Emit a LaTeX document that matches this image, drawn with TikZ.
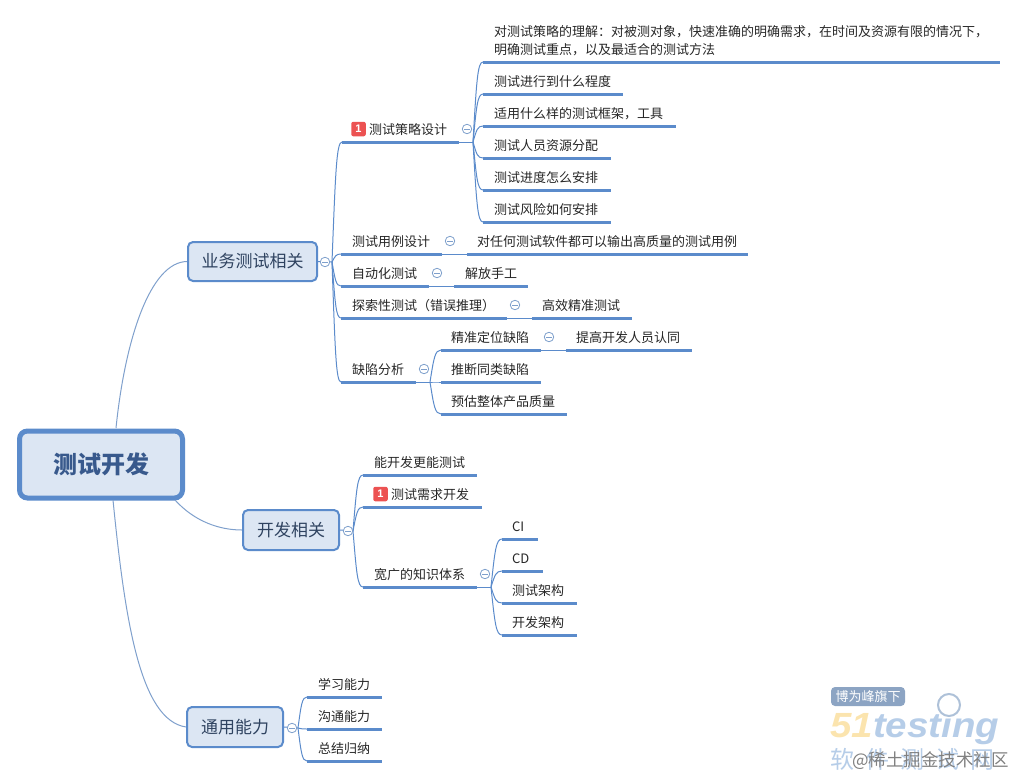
\documentclass[tikz,border=0pt]{standalone}
\usepackage{graphicx}
\usepackage{fontspec}
\setmainfont{Noto Sans CJK SC}
\newfontfamily\latinbold{Liberation Sans}
\usetikzlibrary{calc}
\definecolor{mblue}{HTML}{5B8BCB}
\definecolor{mfill}{HTML}{DCE6F3}
\definecolor{thinb}{HTML}{7FA0CC}
\definecolor{tdark}{HTML}{2F4360}
\definecolor{rootx}{HTML}{38598C}
\definecolor{wmblue}{HTML}{B6CDE8}
\definecolor{wmyel}{HTML}{FBE4AE}
\definecolor{badgered}{HTML}{EC5252}
\tikzset{
  leafnode/.style={anchor=south west,inner xsep=11pt,inner ysep=8pt,outer sep=0pt,align=left,
    text height=11pt,text depth=0pt,text=black!85,font=\fontsize{13}{18}\selectfont},
  underbar/.style={draw=mblue,line width=3pt},
  link/.style={mblue,line width=1pt},
  rootlink/.style={thinb,line width=1pt},
  topicbox/.style={draw=mblue,fill=mfill,line width=2pt,rounded corners=5pt,inner sep=0pt,text=tdark,
    font=\fontsize{17}{20}\selectfont},
  rootbox/.style={draw=mblue,fill=mfill,line width=5pt,rounded corners=8pt,inner sep=0pt,text=rootx,
    font=\fontsize{24}{28}\selectfont\bfseries},
  collapse/.style={circle,draw=thinb,fill=white,line width=.8pt,minimum size=9.5pt,inner sep=0pt,
    path picture={\draw[thinb,line width=.8pt] ($(path picture bounding box.center)+(-2.6pt,0)$) -- ($(path picture bounding box.center)+(2.6pt,0)$);}},
  badge/.style={fill=badgered,rounded corners=2pt,minimum width=14.5pt,minimum height=14.5pt,inner sep=0pt,
    text=white,font=\latinbold\fontsize{11}{11}\selectfont\bfseries},
}
\newcommand\leafnode[5]{%
  \pgfmathsetmacro\lfw{#3-#2-22}%
  \node[leafnode,text width=\lfw pt] (#1) at (#2,#4) {#5};
  \draw[underbar] (#1.south west) -- (#1.south east);
}
\newcommand\branch[2]{%
  \draw[link] let \p1=(#1),\p2=(#2.south west) in (\p1)
    .. controls ({\x1+0.35*(\x2-\x1)},{\y1+0.75*(\y2-\y1)}) and ({\x1+0.45*(\x2-\x1)},{\y2}) .. (\p2);
}
\newcommand\bk{\hspace*{-1pt}}
\begin{document}
\begin{tikzpicture}[x=1pt,y=-1pt]
\useasboundingbox (0,0) rectangle (1018,777);

% main boxes
\node[rootbox,minimum width=163pt,minimum height=67pt] (root) at (101,464.5) {测试开发};
\node[topicbox,minimum width=129pt,minimum height=39pt] (biz) at (252.5,261.5) {业务测试相关};
\node[topicbox,minimum width=96pt,minimum height=40pt] (dev) at (291,530) {开发相关};
\node[topicbox,minimum width=96pt,minimum height=40pt] (gen) at (235,727) {通用能力};

% root connectors
\coordinate (r1) at (116,428);
\coordinate (r2) at (175,500);
\coordinate (r3) at (113,500);
\draw[rootlink] (r1) .. controls (125,340) and (150,262) .. (biz.west);
\draw[rootlink] (r2) .. controls (195,522) and (220,530) .. (dev.west);
\draw[rootlink] (r3) .. controls (125,620) and (140,720) .. (gen.west);

% business branch
\leafnode{strat}{342}{459}{142}{\hspace*{16pt}测试策略设计}
\leafnode{s1}{483}{1000}{62}{\parbox[b]{495pt}{对测试策略的理解：对被测对象，快速准确的明确需求，在时间及资源有限的情况下，\\明确测试重点，以及最适合的测试方法}}
\leafnode{s2}{483}{623}{94}{测试进行到什么程度}
\leafnode{s3}{483}{676}{126}{适用什么样的测试框架，工具}
\leafnode{s4}{483}{611}{158}{测试人员资源分配}
\leafnode{s5}{483}{611}{190}{测试进度怎么安排}
\leafnode{s6}{483}{611}{222}{测试风险如何安排}
\leafnode{case}{341}{442}{254}{测试用例设计}
\leafnode{case1}{467}{748}{254}{\bk 对任何测试软件都可以输出高质量的测试用例}
\leafnode{auto}{341}{429}{286}{自动化测试}
\leafnode{auto1}{454}{528}{286}{解放手工}
\leafnode{expl}{341}{507}{318}{探索性测试（错误推理）}
\leafnode{expl1}{532}{632}{318}{\bk 高效精准测试}
\leafnode{defect}{341}{416}{382}{缺陷分析}
\leafnode{d1}{441}{541}{350}{\bk 精准定位缺陷}
\leafnode{d1a}{566}{692}{350}{\bk 提高开发人员认同}
\leafnode{d2}{441}{541}{382}{\bk 推断同类缺陷}
\leafnode{d3}{441}{567}{414}{\bk 预估整体产品质量}

\coordinate (jb) at (332,262);
\draw[link] (biz.east) -- (jb);
\branch{jb}{strat}\branch{jb}{case}\branch{jb}{auto}\branch{jb}{expl}\branch{jb}{defect}
\coordinate (js) at (473,142);
\draw[link] (strat.south east) -- (js);
\branch{js}{s1}\branch{js}{s2}\branch{js}{s3}\branch{js}{s4}\branch{js}{s5}\branch{js}{s6}
\draw[link] (case.south east) -- (case1.south west);
\draw[link] (auto.south east) -- (auto1.south west);
\draw[link] (expl.south east) -- (expl1.south west);
\draw[link] (d1.south east) -- (d1a.south west);
\coordinate (jd) at (430,382);
\draw[link] (defect.south east) -- (jd);
\branch{jd}{d1}\branch{jd}{d2}\branch{jd}{d3}

% development branch
\leafnode{v1}{363}{477}{475}{能开发更能测试}
\leafnode{v2}{363}{482}{507}{\hspace*{17pt}测试需求开发}
\leafnode{v3}{363}{477}{587}{宽广的知识体系}
\leafnode{k1}{502}{538}{539}{\bk CI}
\leafnode{k2}{502}{543}{571}{\bk CD}
\leafnode{k3}{502}{577}{603}{\bk 测试架构}
\leafnode{k4}{502}{577}{635}{\bk 开发架构}
\coordinate (jv) at (353,531);
\draw[link] (dev.east) -- (jv);
\branch{jv}{v1}\branch{jv}{v2}\branch{jv}{v3}
\coordinate (jk) at (491,587);
\draw[link] (v3.south east) -- (jk);
\branch{jk}{k1}\branch{jk}{k2}\branch{jk}{k3}\branch{jk}{k4}

% general branch
\leafnode{g1}{307}{382}{697}{学习能力}
\leafnode{g2}{307}{382}{729}{沟通能力}
\leafnode{g3}{307}{382}{761}{总结归纳}
\coordinate (jg) at (298,728);
\draw[link] (gen.east) -- (jg);
\branch{jg}{g1}\branch{jg}{g2}\branch{jg}{g3}

% badges
\node[badge] (b1) at (358.5,129) {1};
\node[badge] (b2) at (380.5,494) {1};

% collapse marks
\node[collapse] (c1) at (325,262) {};
\node[collapse] (c2) at (467,129) {};
\node[collapse] (c3) at (450,241) {};
\node[collapse] (c4) at (437,273) {};
\node[collapse] (c5) at (515,305) {};
\node[collapse] (c6) at (424,369) {};
\node[collapse] (c7) at (549,337) {};
\node[collapse] (c8) at (348,531) {};
\node[collapse] (c9) at (485,574) {};
\node[collapse] (c10) at (292,728) {};

% watermark
\node[anchor=base west,inner sep=0pt,font=\latinbold\fontsize{35}{35}\selectfont\bfseries\itshape] (wm2) at (830,737)
  {\scalebox{1.1}[1]{\textcolor{wmyel}{51}\textcolor{wmblue}{testing}}};
\node[circle,draw=wmblue!85!gray,fill=white,line width=2pt,minimum size=22pt,inner sep=0pt] (wm3) at (949,705) {};
\node[fill=thinb!80!gray!90,rounded corners=4pt,minimum width=74pt,minimum height=19pt,inner sep=0pt,text=white,
  font=\fontsize{13}{13}\selectfont] (wm1) at (868,696.5) {博为峰旗下};
\node[anchor=west,inner sep=0pt,text=wmblue,font=\fontsize{24}{24}\selectfont] (wm4) at (830,759) {软\hspace{11pt}件\hspace{11pt}测\hspace{11pt}试\hspace{11pt}网};
\node[anchor=west,inner sep=0pt,text=black!50,font=\fontsize{17.5}{18}\selectfont] (wm5) at (852,761) {@稀土掘金技术社区};
\end{tikzpicture}
\end{document}
